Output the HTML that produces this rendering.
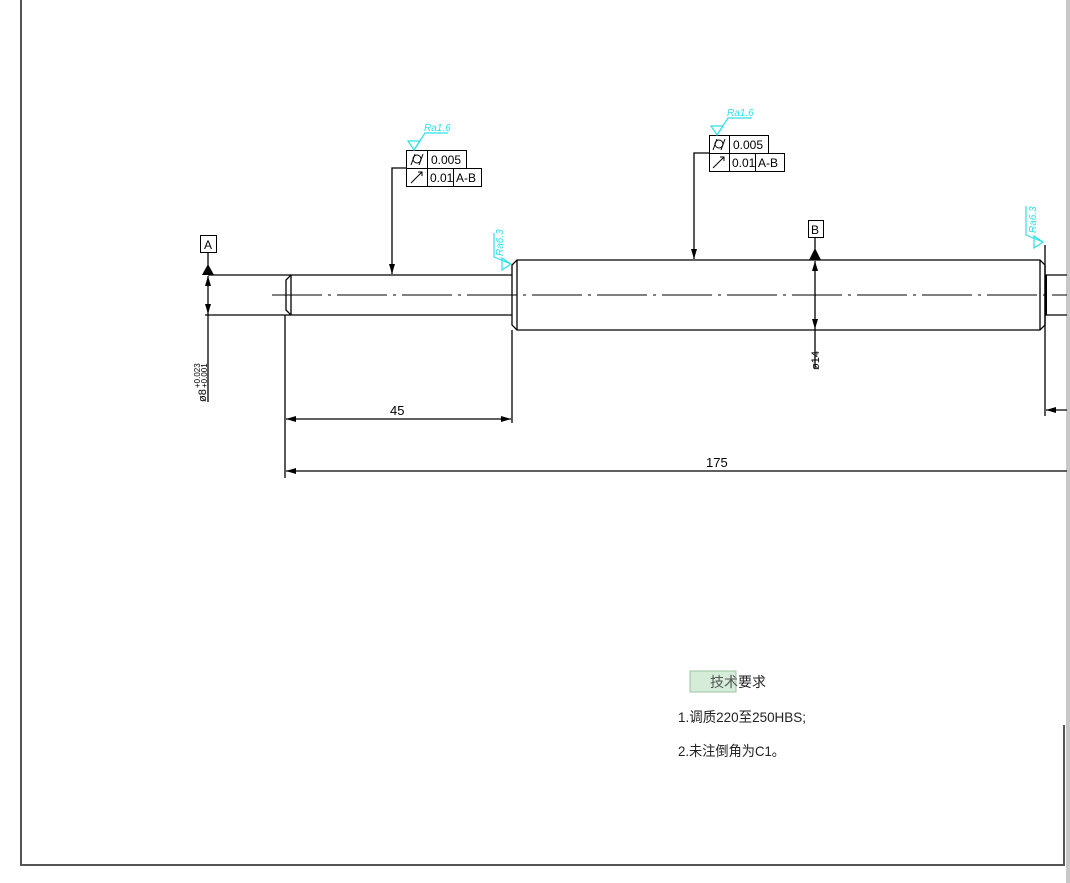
<!DOCTYPE html>
<html><head><meta charset="utf-8"><style>
html,body{margin:0;padding:0;background:#fff;width:1070px;height:883px;overflow:hidden}
svg{display:block}
text{font-family:"Liberation Sans Narrow","Liberation Sans",sans-serif}
.cjk{font-family:"Liberation Serif","Noto Serif CJK SC","Noto Sans CJK SC",serif}
</style></head><body>
<svg width="1070" height="883" viewBox="0 0 1070 883" xmlns="http://www.w3.org/2000/svg">
<defs>
<marker id="ar" viewBox="0 0 10 6" refX="10" refY="3" markerWidth="10" markerHeight="6" orient="auto-start-reverse" markerUnits="userSpaceOnUse"><path d="M0,0 L10,3 L0,6 z" fill="#000"/></marker>
</defs>
<rect x="1066" y="0" width="4" height="883" fill="#c8c8c8"/>
<g stroke="#555" stroke-width="2" fill="none">
<line x1="21" y1="0" x2="21" y2="866"/>
<line x1="21" y1="865" x2="1064" y2="865"/>
<line x1="1064" y1="725" x2="1064" y2="866"/>
</g>
<g stroke="#000" stroke-width="1.3" fill="none">
<line x1="208" y1="275" x2="512" y2="275"/>
<line x1="205" y1="315" x2="512" y2="315"/>
<path d="M291,275 L286,280 L286,310 L291,315"/>
<line x1="291" y1="275" x2="291" y2="315"/>
<path d="M517,260 L1040,260 L1045,265 L1045,325 L1040,330 L517,330 L512,325 L512,265 Z"/>
<line x1="517" y1="260" x2="517" y2="330"/>
<line x1="1040" y1="260" x2="1040" y2="330"/>
<line x1="1045" y1="275" x2="1067" y2="275"/>
<line x1="1045" y1="315" x2="1067" y2="315"/>
<line x1="1046" y1="275" x2="1046" y2="315" stroke-width="2"/>
<line x1="285" y1="315" x2="285" y2="478"/>
<line x1="512" y1="330" x2="512" y2="423"/>
<line x1="1045" y1="245" x2="1045" y2="416"/>
<line x1="286" y1="419" x2="511" y2="419" marker-start="url(#ar)" marker-end="url(#ar)"/>
<line x1="286" y1="471" x2="1067" y2="471" marker-start="url(#ar)"/>
<line x1="1067" y1="410" x2="1046" y2="410" marker-end="url(#ar)"/>
<line x1="208" y1="276" x2="208" y2="314" marker-start="url(#ar)" marker-end="url(#ar)"/>
<line x1="208" y1="314" x2="208" y2="402"/>
<line x1="815" y1="261" x2="815" y2="329" marker-start="url(#ar)" marker-end="url(#ar)"/>
<line x1="815" y1="329" x2="815" y2="368"/>
<path d="M406,168 L392,168 L392,274" marker-end="url(#ar)"/>
<path d="M709,153 L694,153 L694,259" marker-end="url(#ar)"/>
<line x1="208" y1="252" x2="208" y2="265"/>
<line x1="815" y1="237" x2="815" y2="249"/>
</g>
<line x1="272" y1="295" x2="1067" y2="295" stroke="#000" stroke-width="1" stroke-dasharray="50,6,3,6"/>
<polygon points="202,275 214,275 208,264" fill="#000"/>
<polygon points="809,260 821,260 815,248" fill="#000"/>
<g fill="none" stroke="#000" stroke-width="1">
<rect x="200.5" y="235.5" width="16" height="17"/>
<rect x="808.5" y="220.5" width="15" height="17"/>
<rect x="406.5" y="150.5" width="60" height="18"/>
<line x1="427.5" y1="150" x2="427.5" y2="186"/>
<rect x="406.5" y="168.5" width="75" height="18"/>
<line x1="453.5" y1="168" x2="453.5" y2="186"/>
<rect x="709.5" y="135.5" width="59" height="18"/>
<line x1="729.5" y1="135" x2="729.5" y2="171"/>
<rect x="709.5" y="153.5" width="75" height="18"/>
<line x1="755.5" y1="153" x2="755.5" y2="171"/>
</g>
<g font-size="12" fill="#000">
<text x="204" y="249">A</text>
<text x="811" y="234">B</text>
<text x="431" y="164">0.005</text>
<text x="430" y="182">0.01</text>
<text x="456" y="182">A-B</text>
<text x="733" y="149">0.005</text>
<text x="732" y="167">0.01</text>
<text x="758" y="167">A-B</text>
<text x="390" y="415" font-size="13">45</text>
<text x="706" y="467" font-size="13">175</text>
<text transform="translate(819,370) rotate(-90)" font-size="11">ø14</text>
<text transform="translate(206,402) rotate(-90)" font-size="11">ø8</text>
<text transform="translate(200,388) rotate(-90)" font-size="8">+0.023</text>
<text transform="translate(207,388) rotate(-90)" font-size="8">+0.001</text>
</g>
<g stroke="#000" stroke-width="1" fill="none">
<circle cx="417" cy="159" r="4"/><line x1="411" y1="165" x2="415" y2="154"/><line x1="419" y1="165" x2="423" y2="154"/>
<line x1="411" y1="183" x2="422" y2="172"/><path d="M418,172 L422,172 L422,176"/>
<circle cx="719" cy="144" r="4"/><line x1="713" y1="150" x2="717" y2="139"/><line x1="721" y1="150" x2="725" y2="139"/>
<line x1="713" y1="168" x2="724" y2="157"/><path d="M720,157 L724,157 L724,161"/>
</g>
<g stroke="#2ee0e8" stroke-width="1.2" fill="none">
<polygon points="408,141 420,141 414,150"/><path d="M414,150 L425,133 L448,133"/>
<polygon points="711,126 723,126 717,135"/><path d="M717,135 L728,118 L752,118"/>
<polygon points="502,258 502,270 511,264"/><path d="M511,264 L494,257 L494,233"/>
<polygon points="1034,236 1034,248 1043,242"/><path d="M1043,242 L1026,235 L1026,206"/>
</g>
<g fill="#2ee0e8" font-size="10" font-style="italic">
<text x="424" y="131">Ra1.6</text>
<text x="727" y="116">Ra1.6</text>
<text transform="translate(503,256) rotate(-90)">Ra6.3</text>
<text transform="translate(1036,233) rotate(-90)">Ra6.3</text>
</g>
<rect x="690" y="671" width="46" height="21" fill="#d4ecd8" stroke="#9cc4a4" stroke-width="1"/>
<g class="cjk" font-size="14" fill="#222">
<text x="710" y="687" fill="#555">技术</text>
<text x="738" y="687">要求</text>
<text x="678" y="722" textLength="128" lengthAdjust="spacingAndGlyphs">1.调质220至250HBS;</text>
<text x="678" y="756" textLength="107" lengthAdjust="spacingAndGlyphs">2.未注倒角为C1。</text>
</g>
</svg>
</body></html>
